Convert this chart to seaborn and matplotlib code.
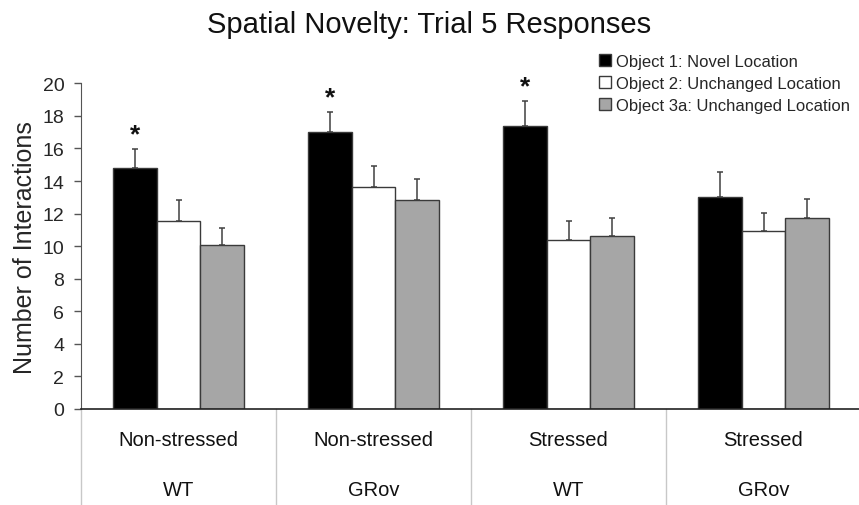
import matplotlib
matplotlib.use("Agg")
import matplotlib.pyplot as plt
import seaborn as sns
import pandas as pd
from matplotlib.lines import Line2D
from matplotlib.patches import Patch

# ---- data ----
conditions = ["Non-stressed", "Non-stressed", "Stressed", "Stressed"]
genotypes = ["WT", "GRov", "WT", "GRov"]
groups = ["Non-stressed WT", "Non-stressed GRov", "Stressed WT", "Stressed GRov"]
objects = ["Object 1: Novel Location", "Object 2: Unchanged Location",
           "Object 3a: Unchanged Location"]
obj1_mean = [14.8, 17.0, 17.4, 13.0]
obj2_mean = [11.55, 13.65, 10.4, 10.9]
obj3_mean = [10.05, 12.85, 10.65, 11.75]
obj1_sem = [1.15, 1.25, 1.5, 1.55]
obj2_sem = [1.3, 1.3, 1.12, 1.15]
obj3_sem = [1.05, 1.3, 1.1, 1.15]
significant = [True, True, True, False]
y_ticks = list(range(0, 21, 2))

means = [obj1_mean, obj2_mean, obj3_mean]
sems = [obj1_sem, obj2_sem, obj3_sem]
rows = []
for o, m in zip(objects, means):
    for g, v in zip(groups, m):
        rows.append({"group": g, "object": o, "value": v})
df = pd.DataFrame(rows)

colors = ["#000000", "#ffffff", "#a6a6a6"]
edge = "#3a3a3a"

sns.set_style("white")
plt.rcParams["font.family"] = ["Liberation Sans", "DejaVu Sans"]

fig = plt.figure(figsize=(8.59, 5.06), dpi=100)
ax = fig.add_axes([81 / 859, 1 - 410 / 506, 780 / 859, 325.7 / 506])

sns.barplot(data=df, x="group", y="value", hue="object", order=groups,
            hue_order=objects, palette=colors, width=0.67, gap=0,
            edgecolor=edge, linewidth=1, errorbar=None, ax=ax, legend=False,
            saturation=1)

# error bars (upper only)
bar_containers = list(ax.containers)
for j, cont in enumerate(bar_containers):
    for i, bar in enumerate(cont.patches):
        x = bar.get_x() + bar.get_width() / 2
        ax.errorbar(x, means[j][i], yerr=[[0], [sems[j][i]]], fmt="none",
                    ecolor="#404040", elinewidth=1.1, capsize=2.5,
                    capthick=1.1, zorder=1)
        if j == 0 and significant[i]:
            ax.text(x, means[j][i] + sems[j][i] + 0.15, "*", ha="center",
                    va="bottom", fontsize=19, fontweight="bold",
                    color="#111111")

ax.set_xlim(-0.5, 3.5)
ax.set_ylim(0, 20)
ax.set_yticks(y_ticks)
ax.tick_params(axis="y", which="both", left=True, direction="out", length=5,
               width=1, color="#555555", labelsize=14, pad=7)
ax.set_xticks([])
ax.set_xlabel("")
ax.set_ylabel("Number of Interactions", fontsize=18)
ax.yaxis.set_label_coords(-0.056, 0.5)

for s in ["top", "right"]:
    ax.spines[s].set_visible(False)
ax.spines["left"].set_color("#555555")
ax.spines["bottom"].set_color("#222222")
ax.spines["bottom"].set_linewidth(1.2)

# category separators
trans = ax.get_xaxis_transform()
for xs in [-0.5, 0.5, 1.5, 2.5, 3.5]:
    ax.add_line(Line2D([xs, xs], [0, -0.32], transform=trans, color="#c8c8c8",
                       lw=1, clip_on=False))
for i, (c, g) in enumerate(zip(conditions, genotypes)):
    ax.text(i, -0.095, c, transform=trans, ha="center", va="center",
            fontsize=14.5, color="#111111")
    ax.text(i, -0.246, g, transform=trans, ha="center", va="center",
            fontsize=14.5, color="#111111")

fig.suptitle("Spatial Novelty: Trial 5 Responses", fontsize=21, y=0.978,
             x=0.5, va="top", color="#111111")

handles = [Patch(facecolor=c, edgecolor=edge, lw=1) for c in colors]
fig.legend(handles, objects, loc="upper left",
           bbox_to_anchor=(599 / 859, 1 - 55 / 506), frameon=False,
           fontsize=12, handlelength=0.7, handleheight=0.7,
           handletextpad=0.35, labelspacing=0.42, borderpad=0,
           borderaxespad=0)

fig.savefig("out.png", dpi=100)
